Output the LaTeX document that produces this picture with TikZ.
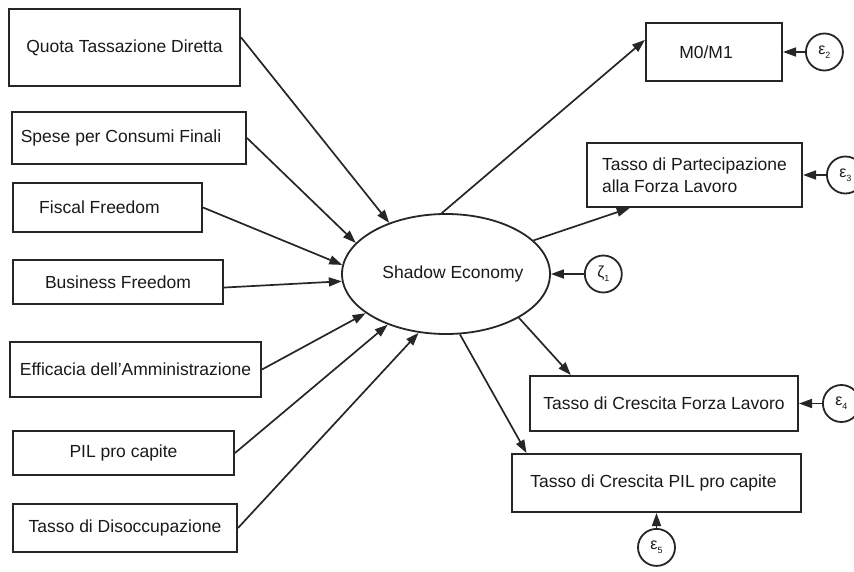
\documentclass[tikz,border=0pt]{standalone}
\usepackage{fontspec}
\setmainfont{Liberation Sans}
\usepackage{tikz}
\usetikzlibrary{
  shapes.geometric,
  arrows.meta,
  positioning
}
\definecolor{linegray} {HTML}{262626}
\definecolor{textdark} {HTML}{1A1A1A}
\newcommand{\errlab}[2]{#1\raisebox{-0.5ex}{\fontsize{9}{10}\selectfont #2}}
\tikzset{
  indbox/.style={
    rectangle, draw=linegray, fill=white, text=textdark,
    line width=2pt, inner sep=0pt, align=center,
    font=\fontsize{17.5}{21.5}\selectfont
  },
  latentnode/.style={
    ellipse, draw=linegray, fill=white, text=textdark,
    line width=1.8pt, inner sep=0pt,
    minimum width=208pt, minimum height=120pt,
    font=\fontsize{17.5}{21.5}\selectfont
  },
  errnode/.style={
    circle, draw=linegray, fill=white, text=textdark,
    line width=1.8pt, inner sep=0pt, minimum size=37pt,
    font=\fontsize{16}{18}\selectfont
  },
  myarrow/.style={-{Triangle[length=13pt,width=9pt]}, line width=1.7pt, color=linegray}
}

\begin{document}
\begin{tikzpicture}[x=1pt, y=-1pt, node distance=22pt]

  \useasboundingbox (0,0) rectangle (854,572);

  % cause indicators
  \node[indbox, minimum width=231pt, minimum height=77pt] (quota)    at (124.5,47.5) {Quota Tassazione Diretta};
  \node[indbox, minimum width=234pt, minimum height=52pt] (spese)    at (129,138)    {Spese per Consumi Finali\hspace*{16pt}};
  \node[indbox, minimum width=189pt, minimum height=49pt] (fiscal)   at (107.5,207.5){Fiscal Freedom\hspace*{16pt}};
  \node[indbox, minimum width=210pt, minimum height=44pt] (business) at (118,282)    {Business Freedom};
  \node[indbox, minimum width=251pt, minimum height=55pt] (effic)    at (135.5,369.5){Efficacia dell'Amministrazione};
  \node[indbox, minimum width=221pt, minimum height=44pt] (pil)      at (123.5,453)  {PIL pro capite};
  \node[indbox, minimum width=224pt, minimum height=48pt] (disocc)   at (125,528)    {Tasso di Disoccupazione};

  % latent variable
  \node[latentnode] (se) at (446,274) {\makebox[110pt]{\hspace*{14pt}Shadow Economy}};
  \node[errnode, right=33pt of se] (zeta) {\errlab{ζ}{1}};

  % indicators
  \node[indbox, minimum width=136pt, minimum height=58pt] (m0)    at (714,52)     {M0/M1\hspace*{16pt}};
  \node[indbox, minimum width=215pt, minimum height=64pt, align=left] (part) at (694.5,175)
    {Tasso di Partecipazione\\alla Forza Lavoro};
  \node[indbox, minimum width=268pt, minimum height=55pt] (forza) at (664,403.5)  {Tasso di Crescita Forza Lavoro};
  \node[indbox, minimum width=289pt, minimum height=58pt] (pilg)  at (656.5,483)  {Tasso di Crescita PIL pro capite\hspace*{6pt}};

  \node[errnode, right=of m0]           (e2) {\errlab{ε}{2}};
  \node[errnode, right=23pt of part]    (e3) {\errlab{ε}{3}};
  \node[errnode, right=23pt of forza]   (e4) {\errlab{ε}{4}};
  \node[errnode, below=15pt of pilg]    (e5) {\errlab{ε}{5}};

  \foreach \a/\b in {quota.5/se.138, spese.east/se.161, fiscal.east/se.175,
                     business.357/se.184, effic.east/se.206, pil.east/se.221,
                     disocc.east/se.245,
                     se.94/m0.170, se.21/part.207, se.329/forza.163, se.283/pilg.167,
                     zeta.west/se.east, e2.west/m0.east, e3.west/part.east,
                     e4.west/forza.east, e5.north/pilg.south}{
    \draw[myarrow] (\a) -- (\b);
  }

\end{tikzpicture}
\end{document}
